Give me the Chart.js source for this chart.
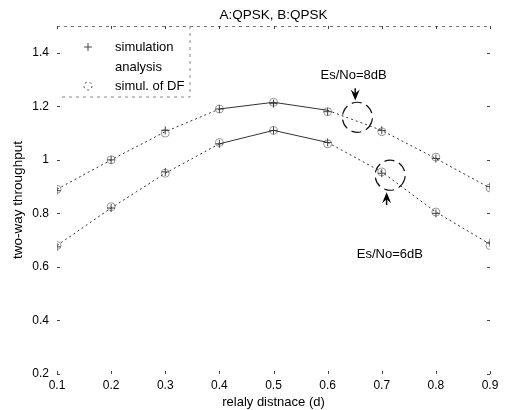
<!DOCTYPE html>
<html>
<head>
<meta charset="utf-8">
<script src="https://cdn.jsdelivr.net/npm/chart.js@4.4.0/dist/chart.umd.min.js"></script>
<style>
  html, body { margin: 0; padding: 0; background: #fff; }
  #wrap { width: 507px; height: 410px; }
</style>
</head>
<body>
<div id="wrap"><canvas id="thruChart" width="507" height="410"></canvas></div>
<script>
// relay distance values (x axis)
const distances = [0.1, 0.2, 0.3, 0.4, 0.5, 0.6, 0.7, 0.8, 0.9];

// Es/No = 8dB
const analysis8 = [0.89, 1.00, 1.105, 1.19, 1.215, 1.185, 1.11, 1.005, 0.895];
const simulation8 = [0.885, 1.00, 1.11, 1.19, 1.21, 1.18, 1.11, 1.005, 0.90];
const simulDF8 = [0.89, 1.00, 1.10, 1.19, 1.215, 1.18, 1.105, 1.01, 0.895];

// Es/No = 6dB
const analysis6 = [0.68, 0.82, 0.95, 1.06, 1.11, 1.065, 0.955, 0.805, 0.685];
const simulation6 = [0.675, 0.82, 0.955, 1.06, 1.11, 1.065, 0.95, 0.80, 0.69];
const simulDF6 = [0.68, 0.825, 0.95, 1.065, 1.11, 1.06, 0.955, 0.805, 0.68];

const yTicks = [0.2, 0.4, 0.6, 0.8, 1.0, 1.2, 1.4];
const yTickLabels = ['0.2', '0.4', '0.6', '0.8', '1', '1.2', '1.4'];
const xTickLabels = ['0.1', '0.2', '0.3', '0.4', '0.5', '0.6', '0.7', '0.8', '0.9'];

const legendLabels = ['simulation', 'analysis', 'simul. of DF'];
const notes = [
    { text: 'Es/No=8dB', x: 0.648, y: 1.317 },
    { text: 'Es/No=6dB', x: 0.715, y: 0.648 }
];
// circled regions and arrows (data coords)
const circles = [{ x: 0.655, y: 1.159 }, { x: 0.7155, y: 0.9425 }];
const arrows = [
    { x: 0.651, from: 1.267, to: 1.222 },
    { x: 0.709, from: 0.831, to: 0.879 }
];

const FONT = 'Liberation Sans, Arial, Helvetica, sans-serif';

function toPoints(vals) {
    return vals.map((v, i) => ({ x: distances[i], y: v }));
}

// dotted curve with a solid middle section like the scan
const segStyle = {
    borderDash: ctx => (ctx.p0DataIndex === 3 || ctx.p0DataIndex === 4) ? [] : [2, 3]
};

function curve(vals) {
    return {
        data: toPoints(vals),
        borderColor: '#333',
        borderWidth: 1,
        pointRadius: 0,
        segment: segStyle,
        fill: false
    };
}
function markers(vals, style, color) {
    return {
        data: toPoints(vals),
        showLine: false,
        pointStyle: style,
        pointRadius: 4,
        borderColor: color,
        backgroundColor: 'transparent',
        pointBorderWidth: 1
    };
}

const decorPlugin = {
    id: 'decor',
    afterDraw(chart) {
        const { ctx, chartArea: a, scales: { x, y } } = chart;
        ctx.save();

        // title
        ctx.fillStyle = '#000';
        ctx.font = '13.5px ' + FONT;
        ctx.textAlign = 'center';
        ctx.textBaseline = 'middle';
        ctx.fillText('A:QPSK, B:QPSK', (a.left + a.right) / 2, 15);

        // top border, faint dashed
        ctx.strokeStyle = '#777';
        ctx.lineWidth = 1;
        ctx.setLineDash([3, 4]);
        ctx.beginPath();
        ctx.moveTo(a.left, a.top + 0.5);
        ctx.lineTo(a.right, a.top + 0.5);
        ctx.stroke();
        ctx.setLineDash([]);

        // inward tick marks
        ctx.strokeStyle = '#444';
        yTicks.forEach(v => {
            const py = Math.round(y.getPixelForValue(v)) + 0.5;
            ctx.beginPath();
            ctx.moveTo(a.left, py); ctx.lineTo(a.left + 3, py);
            ctx.moveTo(a.right, py); ctx.lineTo(a.right - 3, py);
            ctx.stroke();
        });
        distances.forEach(v => {
            const px = Math.round(x.getPixelForValue(v)) + 0.5;
            ctx.beginPath();
            ctx.moveTo(px, a.bottom); ctx.lineTo(px, a.bottom - 3);
            ctx.moveTo(px, a.top); ctx.lineTo(px, a.top + 3);
            ctx.stroke();
        });

        // legend box
        const lx0 = a.left + 3, lx1 = 190, ly0 = a.top, ly1 = 97;
        ctx.strokeStyle = '#888';
        ctx.setLineDash([3, 4]);
        ctx.beginPath();
        ctx.moveTo(lx1, ly0); ctx.lineTo(lx1, ly1);
        ctx.lineTo(lx0, ly1);
        ctx.stroke();
        ctx.setLineDash([]);
        ctx.fillStyle = '#000';
        ctx.font = '13px ' + FONT;
        ctx.textAlign = 'left';
        const rows = [47, 67, 86];
        legendLabels.forEach((t, i) => ctx.fillText(t, 115, rows[i]));
        ctx.strokeStyle = '#444';
        ctx.beginPath();
        ctx.moveTo(84, rows[0]); ctx.lineTo(92, rows[0]);
        ctx.moveTo(88, rows[0] - 4); ctx.lineTo(88, rows[0] + 4);
        ctx.stroke();
        ctx.setLineDash([2, 3]);
        ctx.beginPath();
        ctx.arc(88, rows[2], 4, 0, Math.PI * 2);
        ctx.stroke();
        ctx.setLineDash([]);

        // annotation text
        ctx.fillStyle = '#000';
        ctx.textAlign = 'center';
        notes.forEach(n => ctx.fillText(n.text, x.getPixelForValue(n.x), y.getPixelForValue(n.y)));

        // circles
        ctx.strokeStyle = '#111';
        ctx.lineWidth = 1.2;
        ctx.setLineDash([10, 5]);
        circles.forEach(c => {
            ctx.beginPath();
            ctx.arc(x.getPixelForValue(c.x), y.getPixelForValue(c.y), 15, 0.3, 0.3 + Math.PI * 2);
            ctx.stroke();
        });
        ctx.setLineDash([]);

        // arrows
        ctx.fillStyle = '#000';
        arrows.forEach(ar => {
            const px = x.getPixelForValue(ar.x);
            const p0 = y.getPixelForValue(ar.from);
            const p1 = y.getPixelForValue(ar.to);
            const dir = p1 > p0 ? 1 : -1;
            ctx.lineWidth = 1.5;
            ctx.beginPath();
            ctx.moveTo(px, p0); ctx.lineTo(px, p1 - dir * 6);
            ctx.stroke();
            ctx.beginPath();
            ctx.moveTo(px, p1);
            ctx.lineTo(px - 4.5, p1 - dir * 11);
            ctx.lineTo(px, p1 - dir * 7);
            ctx.lineTo(px + 4.5, p1 - dir * 11);
            ctx.closePath();
            ctx.fill();
        });

        ctx.restore();
    }
};

const ctx = document.getElementById('thruChart').getContext('2d');
const chart = new Chart(ctx, {
    type: 'line',
    data: {
        datasets: [
            curve(analysis8),
            markers(simulation8, 'cross', '#444'),
            markers(simulDF8, 'circle', '#999'),
            curve(analysis6),
            markers(simulation6, 'cross', '#444'),
            markers(simulDF6, 'circle', '#999')
        ]
    },
    options: {
        responsive: false,
        animation: false,
        layout: { padding: { top: 26, right: 17, left: 0, bottom: 0 } },
        plugins: {
            legend: { display: false },
            tooltip: { enabled: false }
        },
        scales: {
            x: {
                type: 'linear',
                min: 0.1,
                max: 0.9,
                grid: { display: false, drawTicks: false },
                border: { display: false },
                afterFit: s => { s.height = 36; },
                afterBuildTicks: s => { s.ticks = distances.map(v => ({ value: v })); },
                ticks: {
                    padding: 4,
                    color: '#000',
                    font: { family: FONT, size: 12 },
                    maxRotation: 0,
                    callback: (v, i) => xTickLabels[i]
                },
                title: {
                    display: true,
                    text: 'relaly distnace (d)',
                    color: '#000',
                    font: { family: FONT, size: 13 },
                    padding: { top: 2, bottom: 0 }
                }
            },
            y: {
                min: 0.2,
                max: 1.5,
                grid: { display: false, drawTicks: false },
                border: { display: false },
                afterFit: s => { s.width = 57; },
                afterBuildTicks: s => { s.ticks = yTicks.map(v => ({ value: v })); },
                ticks: {
                    padding: 8,
                    color: '#000',
                    font: { family: FONT, size: 12 },
                    callback: (v, i) => yTickLabels[i]
                },
                title: {
                    display: true,
                    text: 'two-way throughput',
                    color: '#000',
                    font: { family: FONT, size: 13.5 },
                    padding: { top: 10, bottom: 0 }
                }
            }
        }
    },
    plugins: [decorPlugin]
});
</script>
</body>
</html>
